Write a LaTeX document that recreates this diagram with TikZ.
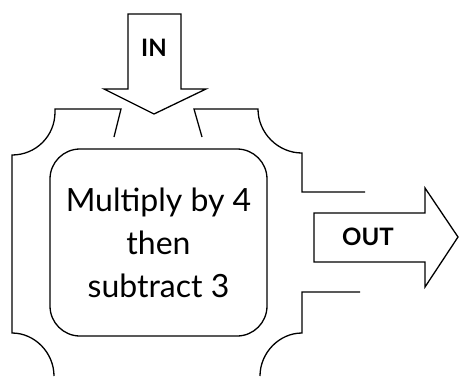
\documentclass[tikz,border=0pt]{standalone}
\usepackage{fontspec}
\setmainfont{Lato}
\begin{document}
\begin{tikzpicture}[x=1pt,y=-1pt,line width=1.3pt,
        tag/.style={font=\fontsize{24}{24}\selectfont\bfseries},
        machine/.style={draw,rounded corners=30pt,minimum width=217pt,minimum height=187pt,
            align=center,font=\fontsize{32}{43}\selectfont}]
        \useasboundingbox (0,0) rectangle (459,376);

        % IN arrow
        \draw (128,14) -- (181,14) -- (181,89) -- (206,89) -- (154,114) -- (104,89) -- (128,89) -- cycle;
        \node[tag] (in) at (154,48) {IN};

        % Machine frame, top left and left side
        \draw (114,137) -- (121,109) -- (55,109) -- (55,112)
            .. controls (55,136) and (36,155) .. (12,155) -- (12,333)
            .. controls (35,333) and (54,353) .. (54,376);
        % Machine frame, top right and right side
        \draw (202,137) -- (194,109) -- (258,109)
            .. controls (258,133) and (278,153) .. (302,153) -- (302,192) -- (365,192);
        \draw (360,292) -- (302,292) -- (302,333)
            .. controls (279,333) and (260,353) .. (260,376);

        % Rule inside the machine
        \node[machine] (rule) at (158.5,242.5) {Multiply by 4\\then\\subtract 3};

        % OUT arrow
        \draw (314,213) -- (425,213) -- (425,188) -- (458,237) -- (425,287) -- (425,262) -- (314,262) -- cycle;
        \node[tag] (out) at (368,237) {OUT};
\end{tikzpicture}
\end{document}
